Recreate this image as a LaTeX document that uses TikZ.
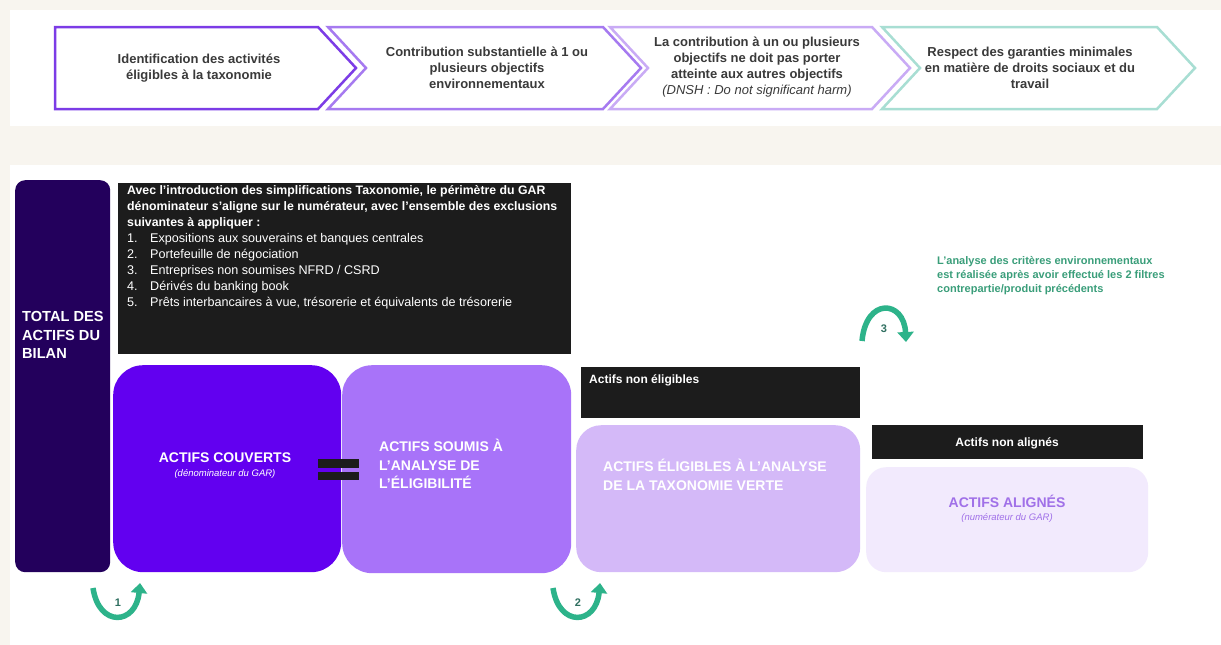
\documentclass[tikz,border=0pt]{standalone}
\usepackage{fontspec}
\setmainfont{Liberation Sans}
\usepackage{tikz}
\usetikzlibrary{arrows.meta}
\definecolor{bgbeige}{HTML}{F8F5EF}
\definecolor{chone}{HTML}{7C3CE6}
\definecolor{chtwo}{HTML}{A67AF0}
\definecolor{chthree}{HTML}{C9ABF5}
\definecolor{chfour}{HTML}{A8DED3}
\definecolor{txtgray}{HTML}{3A3A3A}
\definecolor{totalfill}{HTML}{23005C}
\definecolor{boxblack}{HTML}{1C1C1C}
\definecolor{couvfill}{HTML}{6200F0}
\definecolor{soumisfill}{HTML}{A873F9}
\definecolor{eligfill}{HTML}{D4B9F8}
\definecolor{alignfill}{HTML}{F2EAFD}
\definecolor{aligntxt}{HTML}{A070E8}
\definecolor{tealtxt}{HTML}{3A9E7A}
\definecolor{tealarrow}{HTML}{2DB38A}
\definecolor{tealnum}{HTML}{2F6F60}

\tikzset{
  chevline/.style={line width=2.5pt, line join=miter},
  chevtext/.style={font=\bfseries\fontsize{13}{16}\selectfont, text=txtgray, align=center},
  darkbox/.style={fill=boxblack, draw=none, anchor=north west, inner sep=0pt},
  bigbox/.style={draw=none, anchor=north west, inner sep=0pt},
  captext/.style={font=\bfseries\fontsize{14}{18.5}\selectfont, text=white, inner sep=0pt},
  subtext/.style={font=\itshape\fontsize{9.5}{11}\selectfont, inner sep=0pt},
  filterarrow/.style={draw=tealarrow, line width=5.5pt, -{Triangle[length=10pt,width=16pt]}},
  filternum/.style={font=\bfseries\fontsize{11}{12}\selectfont, text=tealnum, inner sep=0pt},
}

\begin{document}
\begin{tikzpicture}[x=1pt, y=-1pt]
\useasboundingbox (0,0) rectangle (1221,645);
% background bands
\fill[bgbeige] (0,0) rectangle (1221,645);
\fill[white] (10,10) rectangle (1221,126);
\fill[white] (10,165) rectangle (1221,645);

% criteria chevrons
\draw[chevline, draw=chone] (55,27) -- (318,27) -- (356,68) -- (318,109) -- (55,109) -- cycle;
\draw[chevline, draw=chtwo] (328,27) -- (603,27) -- (641,68) -- (603,109) -- (328,109) -- (366,68) -- cycle;
\draw[chevline, draw=chthree] (610,27) -- (872,27) -- (910,68) -- (872,109) -- (610,109) -- (648,68) -- cycle;
\draw[chevline, draw=chfour] (882,27) -- (1157,27) -- (1195,68) -- (1157,109) -- (882,109) -- (920,68) -- cycle;

\node[chevtext] (critone) at (199,68) {Identification des activités\\éligibles à la taxonomie};
\node[chevtext] (crittwo) at (487,68) {Contribution substantielle à 1 ou\\plusieurs objectifs\\environnementaux};
\node[chevtext] (critthree) at (757,67) {La contribution à un ou plusieurs\\objectifs ne doit pas porter\\atteinte aux autres objectifs\\{\mdseries\itshape (DNSH : Do not significant harm)}};
\node[chevtext] (critfour) at (1030,68) {Respect des garanties minimales\\en matière de droits sociaux et du\\travail};

% asset boxes
\node[bigbox, fill=totalfill, rounded corners=10pt, minimum width=95, minimum height=392] (total) at (15,180) {};
\node[captext, anchor=west, align=left, font=\bfseries\fontsize{14.6}{18.5}\selectfont] (totaltxt) at (22,335) {TOTAL DES\\ACTIFS DU\\BILAN};

\node[darkbox, minimum width=453, minimum height=171] (exclusions) at (118,183) {};
\node[anchor=north west, inner sep=0pt, text=white, align=left,
      font=\fontsize{12.6}{16}\selectfont] (exclutxt) at (127,185) {%
{\bfseries\fontsize{12.3}{16}\selectfont Avec l’introduction des simplifications Taxonomie, le périmètre du GAR}\\
{\bfseries\fontsize{12.3}{16}\selectfont dénominateur s’aligne sur le numérateur, avec l’ensemble des exclusions}\\
{\bfseries\fontsize{12.3}{16}\selectfont suivantes à appliquer :}\\
\makebox[23pt][l]{1.}Expositions aux souverains et banques centrales\\
\makebox[23pt][l]{2.}Portefeuille de négociation\\
\makebox[23pt][l]{3.}Entreprises non soumises NFRD / CSRD\\
\makebox[23pt][l]{4.}Dérivés du banking book\\
\makebox[23pt][l]{5.}Prêts interbancaires à vue, trésorerie et équivalents de trésorerie};

\node[bigbox, fill=couvfill, rounded corners=30pt, minimum width=228, minimum height=207] (couverts) at (113,365) {};
\node[bigbox, fill=soumisfill, rounded corners=30pt, minimum width=229, minimum height=208] (soumis) at (342,365) {};
\node[darkbox, minimum width=41, minimum height=9] (eqtop) at (318,459) {};
\node[darkbox, minimum width=41, minimum height=8] (eqbot) at (318,472) {};

\node[captext] (couvtxt) at (225,458) {ACTIFS COUVERTS};
\node[subtext, text=white] (couvsub) at (225,474) {(dénominateur du GAR)};
\node[captext, anchor=west, align=left] (soumistxt) at (379,464) {ACTIFS SOUMIS À\\L’ANALYSE DE\\L’ÉLIGIBILITÉ};

\node[darkbox, minimum width=279, minimum height=51] (noneligibles) at (581,367) {};
\node[anchor=west, inner sep=0pt, text=white, font=\bfseries\fontsize{12}{14}\selectfont] (nonelitxt) at (589,380) {Actifs non éligibles};
\node[bigbox, fill=eligfill, rounded corners=25pt, minimum width=284, minimum height=147] (eligibles) at (576,425) {};
\node[captext, anchor=west, align=left] (eligtxt) at (603,475) {ACTIFS ÉLIGIBLES À L’ANALYSE\\DE LA TAXONOMIE VERTE};

\node[darkbox, minimum width=271, minimum height=34] (nonalignes) at (872,425) {};
\node[text=white, inner sep=0pt, font=\bfseries\fontsize{12}{14}\selectfont] (nonaligntxt) at (1007,443) {Actifs non alignés};
\node[bigbox, fill=alignfill, rounded corners=20pt, minimum width=282, minimum height=105] (alignes) at (866,467) {};
\node[captext, text=aligntxt] (aligntxt) at (1007,501) {ACTIFS ALIGNÉS};
\node[subtext, text=aligntxt] (alignsub) at (1007,518) {(numérateur du GAR)};

% environmental note
\node[anchor=north west, inner sep=0pt, text=tealtxt, align=left,
      font=\bfseries\fontsize{11}{14}\selectfont] (envnote) at (937,256) {%
L’analyse des critères environnementaux\\
est réalisée après avoir effectué les 2 filtres\\
contrepartie/produit précédents};

% filter arrows
\coordinate (fone) at (93,588);
\coordinate (fonetip) at (140,583);
\coordinate (ftwo) at (553,588);
\coordinate (ftwotip) at (600,583);
\coordinate (fthree) at (862,341);
\coordinate (fthreetip) at (906,342);
\draw[filterarrow] (fone) .. controls +(6,40) and +(-4,42) .. (fonetip);
\draw[filterarrow] (ftwo) .. controls +(6,40) and +(-4,42) .. (ftwotip);
\draw[filterarrow] (fthree) .. controls +(4,-44) and +(-2,-42) .. (fthreetip);
\node[filternum] (numone) at (118,603) {1};
\node[filternum] (numtwo) at (578,603) {2};
\node[filternum] (numthree) at (884,329) {3};
\end{tikzpicture}
\end{document}
